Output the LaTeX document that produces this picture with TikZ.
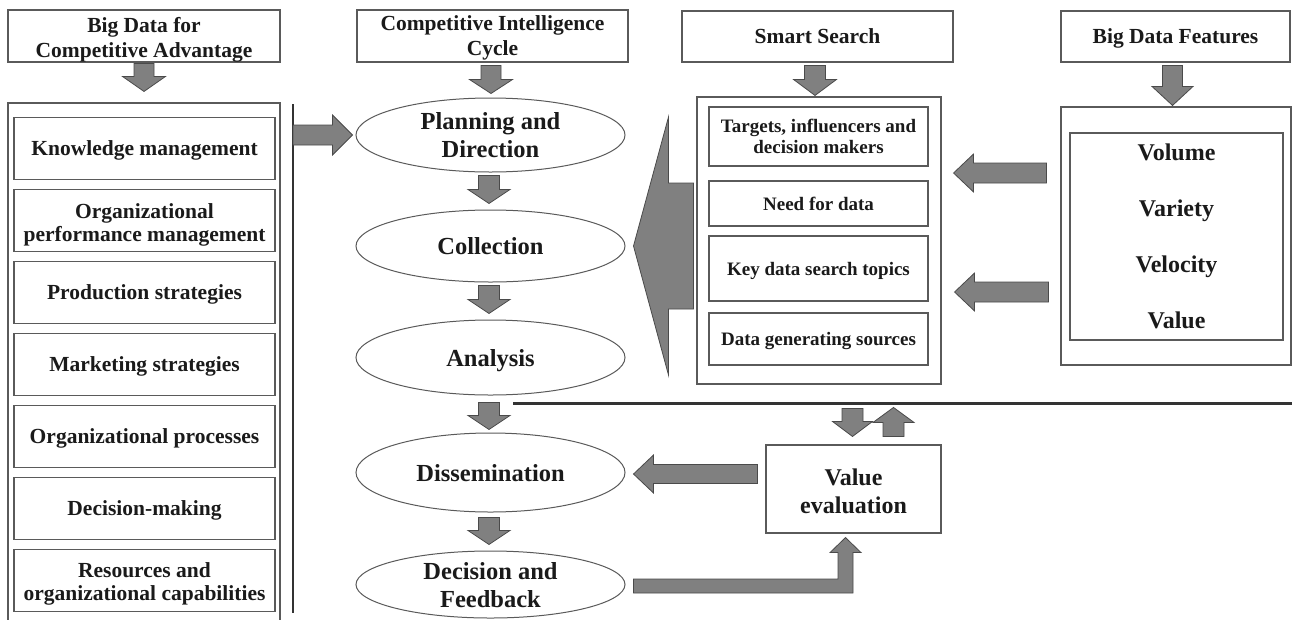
\documentclass[tikz,border=0pt]{standalone}
\usepackage{fontspec}
\setmainfont{Liberation Serif}
\usetikzlibrary{shapes.geometric,calc}
\definecolor{linec}{HTML}{5A5A5A}
\definecolor{arrf}{HTML}{808080}
\definecolor{arrd}{HTML}{4A4A4A}
\definecolor{txt}{HTML}{1A1A1A}
\newcommand{\fs}[2]{\fontsize{#1}{#2}\selectfont\bfseries}
\newcommand{\lift}[1]{\rule{0pt}{#1}}
% block arrows: #1 start, #2 end, #3 shaft half width, #4 head half width, #5 head length
\newcommand{\adown}[5]{\filldraw[blk] let \p1=(#1),\p2=(#2) in (\x1-#3,\y1) -- (\x1+#3,\y1) -- (\x1+#3,\y2+#5) -- (\x1+#4,\y2+#5) -- (\x1,\y2) -- (\x1-#4,\y2+#5) -- (\x1-#3,\y2+#5) -- cycle;}
\newcommand{\aup}[5]{\filldraw[blk] let \p1=(#1),\p2=(#2) in (\x1-#3,\y1) -- (\x1-#3,\y2-#5) -- (\x1-#4,\y2-#5) -- (\x1,\y2) -- (\x1+#4,\y2-#5) -- (\x1+#3,\y2-#5) -- (\x1+#3,\y1) -- cycle;}
\newcommand{\aleft}[5]{\filldraw[blk] let \p1=(#1),\p2=(#2) in (\x1,\y1+#3) -- (\x2+#5,\y1+#3) -- (\x2+#5,\y1+#4) -- (\x2,\y1) -- (\x2+#5,\y1-#4) -- (\x2+#5,\y1-#3) -- (\x1,\y1-#3) -- cycle;}
\newcommand{\aright}[5]{\filldraw[blk] let \p1=(#1),\p2=(#2) in (\x1,\y1+#3) -- (\x2-#5,\y1+#3) -- (\x2-#5,\y1+#4) -- (\x2,\y1) -- (\x2-#5,\y1-#4) -- (\x2-#5,\y1-#3) -- (\x1,\y1-#3) -- cycle;}
\begin{document}
\begin{tikzpicture}[x=1pt,y=-1pt,
  bx/.style={draw=linec,line width=1.1pt,rectangle,inner sep=0pt,align=center,text=txt,text depth=0pt},
  hdr/.style={bx,font=\fs{21.5}{25}},
  item/.style={bx,minimum width=261pt,minimum height=62pt,font=\fs{21.5}{23}},
  sitem/.style={bx,minimum width=219pt,font=\fs{19}{21.5}},
  el/.style={draw=linec,line width=1pt,ellipse,inner sep=0pt,minimum width=269pt,align=center,text=txt,text depth=0pt,font=\fs{24.5}{28}},
  blk/.style={fill=arrf,draw=arrd,line width=0.8pt,line join=miter},
  rule/.style={draw=black!80,line width=2pt}]
\useasboundingbox (0,0) rectangle (1292,619);
\clip (0,0) rectangle (1292,619);
\fill[white] (0,0) rectangle (1292,619);

% left column
\node[hdr,minimum width=272pt,minimum height=52pt] (hL) at (144,36) {\lift{17pt}Big Data for\\Competitive Advantage};
\node[bx,minimum width=272pt,minimum height=522pt] (oL) at (144,364) {};
\node[item] (k1) at (144.5,148.5) {Knowledge management};
\node[item] (k2) at (144.5,220.5) {\lift{18pt}Organizational\\performance management};
\node[item] (k3) at (144.5,292.5) {Production strategies};
\node[item] (k4) at (144.5,364.5) {Marketing strategies};
\node[item] (k5) at (144.5,436.5) {Organizational processes};
\node[item] (k6) at (144.5,508.5) {Decision-making};
\node[item] (k7) at (144.5,580.5) {\lift{16pt}Resources and\\organizational capabilities};
\coordinate (vt) at (293,104);
\coordinate (vb) at (293,613);
\draw[rule] (vt) -- (vb);

% middle column
\node[hdr,minimum width=271pt,minimum height=52pt] (hC) at (492.5,36) {Competitive Intelligence\\Cycle};
\node[el,minimum height=74pt] (plan) at (490.5,135) {Planning and\\Direction};
\node[el,minimum height=72pt] (coll) at (490.5,246) {Collection};
\node[el,minimum height=75pt] (anal) at (490.5,357.5) {Analysis};
\node[el,minimum height=79pt] (diss) at (490.5,472.5) {Dissemination};
\node[el,minimum height=67pt] (dec) at (490.5,584.5) {Decision and\\Feedback};

% smart search
\node[hdr,minimum width=271pt,minimum height=51pt] (hS) at (817.5,36.5) {Smart Search};
\node[bx,minimum width=244pt,minimum height=287pt] (oS) at (819,240.5) {};
\node[sitem,minimum height=59pt] (s1) at (818.5,136.5) {Targets, influencers and\\decision makers};
\node[sitem,minimum height=45pt] (s2) at (818.5,203.5) {Need for data};
\node[sitem,minimum height=65pt] (s3) at (818.5,268.5) {Key data search topics};
\node[sitem,minimum height=52pt] (s4) at (818.5,339) {Data generating sources};

% big data features
\node[hdr,minimum width=229pt,minimum height=51pt] (hB) at (1175.5,36.5) {Big Data Features};
\node[bx,minimum width=230pt,minimum height=258pt] (oB) at (1176,236) {};
\node[bx,minimum width=213pt,minimum height=207pt,font=\fs{24}{56}] (iB) at (1176.5,236.5) {Volume\\Variety\\Velocity\\Value};

% value evaluation
\node[bx,minimum width=175pt,minimum height=88pt,font=\fs{24}{28}] (ve) at (853.5,489) {\lift{20pt}Value\\evaluation};
\coordinate (h1) at (513,403.5);
\coordinate (h2) at (1292,403.5);
\draw[rule,line width=2.2pt] (h1) -- (h2);

% arrows
\adown{$(hL.south)+(0,1)$}{$(oL.north)+(0,-11)$}{10pt}{21.5pt}{15pt}
\adown{$(hC.south)+(-1.5,3)$}{$(plan.north)+(0,-4)$}{10pt}{21.5pt}{14pt}
\adown{$(hS.south)+(-2.5,3)$}{$(oS.north)+(0,-1)$}{10.5pt}{21.5pt}{16pt}
\adown{$(hB.south)+(-3,3)$}{$(oB.north)+(0,-1)$}{10pt}{20.5pt}{19pt}
\adown{$(plan.south)+(-1.5,3)$}{$(coll.north)+(0,-6)$}{10.5pt}{21pt}{14pt}
\adown{$(coll.south)+(-1.5,3)$}{$(anal.north)+(0,-6)$}{10.5pt}{21pt}{14pt}
\adown{$(anal.south)+(-1.5,7)$}{$(diss.north)+(0,-3)$}{10.5pt}{21pt}{14pt}
\adown{$(diss.south)+(-1.5,5)$}{$(dec.north)+(0,-6)$}{10.5pt}{21pt}{14pt}
\aright{$(vt)+(0,31)$}{$(plan.west)+(-3,0)$}{10pt}{20pt}{20pt}
\aleft{$(oB.west)+(-14,-63)$}{$(oS.east)+(12,0)$}{10pt}{19pt}{20pt}
\aleft{$(oB.west)+(-12,56)$}{$(oS.east)+(13,0)$}{10pt}{19pt}{20pt}
\aleft{$(ve.west)+(-8,-15)$}{$(diss.east)+(8,0)$}{9.5pt}{19pt}{20pt}
\adown{$(ve.north)+(-1,-36)$}{$(ve.north)+(-1,-8)$}{10.5pt}{20pt}{15pt}
\aup{$(ve.north)+(40,-8)$}{$(ve.north)+(40,-37)$}{10.5pt}{20.5pt}{15pt}
% big left arrow from smart search to the cycle
\filldraw[blk] ($(coll.east)+(8,0)$) -- +(35,-129) -- +(35,-63) -- +(60,-63) -- +(60,63) -- +(35,63) -- +(35,129) -- cycle;
% elbow arrow decision -> value evaluation
\filldraw[blk] let \p1=($(dec.east)+(8,1.5)$), \p2=($(ve.south)+(-8,4)$) in
  (\x1,\y1+7pt) -- (\x2-7.5pt,\y1+7pt) -- (\x2-7.5pt,\y2-15pt) -- (\x2-15.5pt,\y2-15pt) -- (\x2,\y2)
  -- (\x2+15.5pt,\y2-15pt) -- (\x2+7.5pt,\y2-15pt) -- (\x2+7.5pt,\y1-7pt) -- (\x1,\y1-7pt) -- cycle;
\end{tikzpicture}
\end{document}
